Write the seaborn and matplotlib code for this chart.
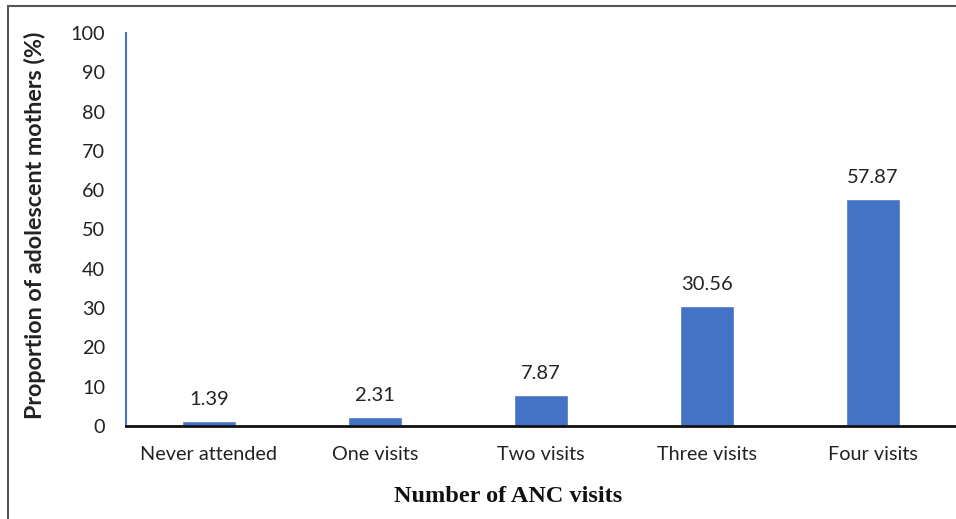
import matplotlib
matplotlib.use("Agg")
import matplotlib.pyplot as plt
import seaborn as sns
import pandas as pd
from matplotlib.patches import Rectangle

categories = ["Never attended", "One visits", "Two visits", "Three visits", "Four visits"]
values = [1.39, 2.31, 7.87, 30.56, 57.87]
yticks = [0, 10, 20, 30, 40, 50, 60, 70, 80, 90, 100]

sns.set_theme(style="white")
plt.rcParams['font.family'] = ['Lato', 'DejaVu Sans']

df = pd.DataFrame({"cat": categories, "val": values})
fig = plt.figure(figsize=(9.56, 5.19), dpi=100)
ax = fig.add_axes([126/956, 1-426/519, 1-126/956, (426-33)/519])
sns.barplot(data=df, x="cat", y="val", color="#4472C4", saturation=1, width=0.32, ax=ax)

for i, v in enumerate(values):
    ax.text(i, v + 3.3, f"{v:.2f}", ha="center", va="bottom", fontsize=14.5, color="#222222")

ax.set_ylim(0, 100)
ax.set_yticks(yticks)
ax.set_xlim(-0.5, 4.5)
ax.tick_params(axis="both", labelsize=14.3, colors="#222222", length=0)
ax.tick_params(axis="y", pad=15)
ax.tick_params(axis="x", pad=14.5)
for s in ["top", "right"]:
    ax.spines[s].set_visible(False)
ax.spines["left"].set_color("#4472C4")
ax.spines["left"].set_linewidth(1.5)
ax.spines["bottom"].set_color("#111111")
ax.spines["bottom"].set_linewidth(2)
ax.set_xlabel("")
ax.set_ylabel("")
fig.text(35/956, 1-225/519, "Proportion of adolescent mothers (%)", rotation=90,
         ha="center", va="center", fontsize=16.8, fontweight="bold", color="#222222")
fig.text(508/956, 1-497/519, "Number of ANC visits", ha="center", va="center",
         fontsize=17.5, fontweight="bold", family=["Liberation Serif"], color="#111111")

fig.patches.append(Rectangle((8/956, -0.1), 1.2, 1-6/519+0.1, transform=fig.transFigure,
                             fill=False, edgecolor="#555555", linewidth=1.5))
fig.savefig("out.png", dpi=100)
